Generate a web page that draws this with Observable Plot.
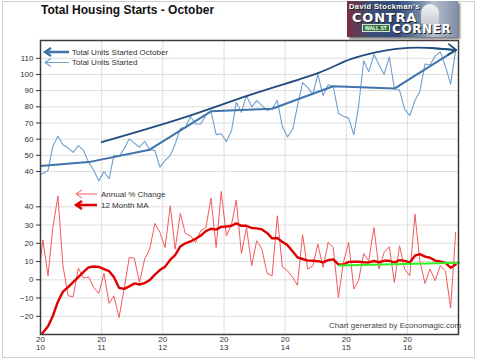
<!DOCTYPE html>
<html><head><meta charset="utf-8">
<script src="https://cdn.jsdelivr.net/npm/d3@7"></script>
<script src="https://cdn.jsdelivr.net/npm/@observablehq/plot@0.6"></script>
<style>
html,body{margin:0;padding:0;background:#fff;}
#wrap{position:relative;width:480px;height:361px;overflow:hidden;font-family:"Liberation Sans",Arial,sans-serif;}
#wrap svg{position:absolute;left:0;top:0;}
#border{position:absolute;left:2px;top:1px;width:471px;height:355px;border:1px solid #d0d0d0;}
#title{position:absolute;left:41px;top:2px;font-size:12px;font-weight:bold;color:#111;transform:scaleY(1.12);transform-origin:0 0;white-space:nowrap;}
#credit{position:absolute;left:329px;top:321px;font-size:8px;color:#444;white-space:nowrap;z-index:5;}
#logo{position:absolute;left:347px;top:1px;width:111px;height:36px;overflow:hidden;z-index:6;
 background:linear-gradient(90deg,#7a2f3e 0%,#3b4f78 22%,#2f4a78 45%,#6f86a6 65%,#b6bfcc 78%,#7d8ea8 100%);
 box-shadow:2px 2px 2px #777;}
#logo span{position:absolute;white-space:nowrap;font-weight:bold;color:#fff;text-shadow:1px 1px 0 #222;}
#logo .ds{left:2px;top:1px;font-size:7.5px;letter-spacing:0.4px;}
#logo .contra{left:5px;top:9px;font-size:13px;letter-spacing:0.8px;font-family:"DejaVu Sans",sans-serif;}
#logo .wall{left:15px;top:23px;font-size:5px;background:#2f7a3a;padding:0 2px;border:1px solid #ddd;text-shadow:none;}
#logo .corner{left:45px;top:21px;font-size:12px;letter-spacing:0.6px;font-family:"DejaVu Sans",sans-serif;}
#logo .dome{position:absolute;left:74px;top:3px;width:18px;height:20px;background:linear-gradient(#f4f4f4,#c8ccd4);border-radius:9px 9px 2px 2px;}
</style></head><body>
<div id="wrap">
 <div id="border"></div>
 <div id="title">Total Housing Starts - October</div>
 <div id="logo"><div class="dome"></div><span class="ds">David Stockman's</span><span class="contra">CONTRA</span><span class="wall">WALL ST</span><span class="corner">CORNER</span></div>
 <div id="credit">Chart generated by Economagic.com</div>
</div>
<script>
// Monthly series, Dec 2009 .. Oct 2016
const firstMonth = [2009, 11];
const unitsStarted = [38.0,
 38.8, 40.6, 55.4, 61.8, 56.5, 54.5, 51.8, 56.0, 53.0, 45.8, 40.8, 34.2,
 40.0, 35.5, 50.0, 49.3, 54.0, 60.2, 57.5, 55.0, 58.7, 53.5, 53.0, 42.7,
 46.8, 49.8, 57.0, 66.5, 67.3, 74.0, 69.4, 69.4, 75.0, 77.2, 62.8, 63.3,
 58.5, 65.3, 82.8, 76.6, 86.9, 80.0, 83.8, 80.7, 77.8, 78.8, 84.0, 67.8,
 61.4, 66.1, 80.3, 95.0, 92.0, 87.5, 100.2, 87.0, 93.7, 92.7, 76.0, 74.2,
 73.0, 62.7, 80.0, 108.5, 101.6, 112.3, 106.1, 100.0, 110.8, 91.3, 90.2, 78.6,
 74.6, 84.0, 89.5, 106.5, 106.0, 111.5, 114.0, 105.0, 94.0, 115.0];
const annualPctChange = [-2,
 21.8, 2.2, 28, 46, 7.7, -8.8, -9.3, 6.4, 0.9, 1.6, -4.2, -7.5,
 3.5, -13, -8.8, -20.7, -5.1, 12.2, 11.9, -1.5, 11.4, 16.8, 30.9, 26,
 17.7, 40.6, 16.8, 36.4, 25.4, 24.1, 20.5, 26.9, 28.7, 44.8, 17.7, 48.4,
 24.1, 30.5, 43.7, 14.4, 28.7, 7.7, 21.4, 16.8, 3.5, 2.2, 35.1, 7.1,
 4.9, 1.3, -3, 24.7, 5.9, 7.7, 19.6, 6.8, 20.5, 17.7, -9.7, 9.5,
 20.5, -5.1, -0.5, 14.4, 10.4, 28.7, 5.9, 15, 18.1, -1.5, 18.7, 5.9,
 2.2, 36, 10.4, -2, 5.9, -0.5, 7.7, 4.9, -15.5, 26];
const movingAvg12 = [-33,
 -29, -25.5, -20, -12, -6.5, -4, -1.3, 1.5, 4.3, 6.8, 7.3, 7.1,
 5.9, 4.7, 1.5, -4.4, -5, -3.6, -2, -2.6, -1.8, -0.2, 2.8, 5.3,
 7.2, 11, 13.5, 18.3, 20, 21, 22.5, 24.2, 26.7, 28, 27.5, 29,
 29.2, 29.6, 30.9, 29.6, 29.6, 28.4, 28.2, 27.6, 25.7, 22.7, 22.9, 20.8,
 19, 15.5, 12.3, 11.4, 10.5, 10.4, 10.2, 9.6, 10.8, 11.2, 8.5, 8.4,
 9.8, 9.9, 9.9, 9.6, 9.5, 10.3, 9.6, 10.4, 10.4, 9.5, 10.8, 10.4,
 9.5, 13.2, 14.1, 12.7, 12.1, 10.5, 10, 9.3, 6.6, 8.4];
// October values
const octoberYears = [2009, 2010, 2011, 2012, 2013, 2014, 2015, 2016];
const octoberUnits = [42.7, 45.8, 53.5, 77.2, 78.8, 92.7, 91.3, 115.0];
// Hand-drawn trend arrow (upper panel units)
const trendDates = ["2011-01-01","2012-04-12","2013-05-24","2014-07-27","2015-02-01","2015-08-18","2016-01-06","2016-05-04","2016-10-18"];
const trendValues = [58.1, 72.5, 86.9, 101.3, 109.6, 114.7, 116.4, 116.4, 115.1];
// Green trend on the 12-month MA
const greenDates = ["2014-11-20", "2016-11-05"];
const greenValues = [7.8, 9.3];
// Axis ticks
const yearTicks = [2010, 2011, 2012, 2013, 2014, 2015, 2016];
const upperTicks = [40, 50, 60, 70, 80, 90, 100, 110];
const lowerTicks = [-20, -10, 0, 10, 20, 30, 40];

const parse = s => { const [y, m, d] = s.split("-").map(Number); return new Date(y, m - 1, d); };
const months = unitsStarted.map((_, i) => new Date(firstMonth[0], firstMonth[1] + i, 15));
const upperData = unitsStarted.map((v, i) => ({date: months[i], v}));
const pctData = annualPctChange.map((v, i) => ({date: months[i], v}));
const maData = movingAvg12.map((v, i) => ({date: months[i], v}));
const octData = octoberYears.map((y, i) => ({date: new Date(y, 9, 15), v: octoberUnits[i]}));
const trendData = trendDates.map((d, i) => ({date: parse(d), v: trendValues[i]}));
const greenData = greenDates.map((d, i) => ({date: parse(d), v: greenValues[i]}));
const yearDates = yearTicks.map(y => new Date(y, 0, 1));

const common = {
  width: 480, height: 361,
  marginTop: 40, marginRight: 22, marginBottom: 27, marginLeft: 40,
  style: {background: "none", fontFamily: "'Liberation Sans', Arial, sans-serif", fontSize: "8px", color: "#333", overflow: "visible"}
};
const xOpts = {type: "time", domain: [new Date(2010, 0, 1), new Date(2016, 10, 1)]};

const upper = Plot.plot({
  ...common,
  x: {...xOpts, ticks: yearDates, tickFormat: d => "20\n" + String(d.getFullYear()).slice(2), tickSize: 0, tickPadding: 2, label: null},
  y: {domain: [-60.8, 121.0], ticks: upperTicks, tickSize: 4, tickPadding: 3, label: null},
  marks: [
    Plot.ruleX(yearDates.slice(1), {stroke: "#dedede", strokeWidth: 1}),
    Plot.ruleY(upperTicks, {stroke: "#dedede", strokeWidth: 1}),
    Plot.line(upperData, {x: "date", y: "v", stroke: "#6f9fcf", strokeWidth: 1.1, clip: true}),
    Plot.line(octData, {x: "date", y: "v", stroke: "#3f74ad", strokeWidth: 2, clip: true}),
    Plot.line(trendData, {x: "date", y: "v", stroke: "#1f4d80", strokeWidth: 1.8, curve: "catmull-rom"}),
    Plot.arrow([trendData.slice(-2)], {
      x1: d => d[0].date, y1: d => d[0].v, x2: d => d[1].date, y2: d => d[1].v,
      stroke: "#1f4d80", strokeWidth: 1.8, headLength: 11, headAngle: 70
    })
  ]
});

const lower = Plot.plot({
  ...common,
  x: {...xOpts, axis: null},
  y: {domain: [-30, 131.2], ticks: lowerTicks, tickSize: 4, tickPadding: 3, label: null},
  marks: [
    Plot.ruleY(lowerTicks, {stroke: "#dedede", strokeWidth: 1}),
    Plot.line(pctData, {x: "date", y: "v", stroke: "#f25a5a", strokeWidth: 1, clip: true}),
    Plot.line(maData, {x: "date", y: "v", stroke: "#e00000", strokeWidth: 2.4, clip: true}),
    Plot.line(greenData, {x: "date", y: "v", stroke: "#33ee22", strokeWidth: 2}),
    Plot.frame({stroke: "#3c3c3c", strokeWidth: 1.5})
  ]
});

const wrap = document.getElementById("wrap");
wrap.insertBefore(upper, document.getElementById("credit"));
wrap.insertBefore(lower, document.getElementById("credit"));

// In-chart legend annotations
const legendItems = [
  {label: "Total Units Started October", color: "#3f74ad", width: 2.4, x0: 45, x1: 69, tx: 72, y: 52},
  {label: "Total Units Started", color: "#6f9fcf", width: 1.1, x0: 45, x1: 69, tx: 72, y: 62.5},
  {label: "Annual % Change", color: "#f25a5a", width: 1, x0: 76, x1: 97, tx: 101, y: 194},
  {label: "12 Month MA", color: "#e00000", width: 2.4, x0: 76, x1: 97, tx: 101, y: 205}
];
const leg = d3.create("svg").attr("width", 480).attr("height", 361)
  .style("font-family", "'Liberation Sans', Arial, sans-serif").style("font-size", "8px");
const g = leg.selectAll("g").data(legendItems).join("g");
g.append("path")
  .attr("d", d => `M${d.x1},${d.y}H${d.x0}M${d.x0 + 6},${d.y - 4}L${d.x0},${d.y}L${d.x0 + 6},${d.y + 4}`)
  .attr("fill", "none").attr("stroke", d => d.color).attr("stroke-width", d => d.width);
g.append("text").attr("x", d => d.tx).attr("y", d => d.y).attr("dy", "0.35em")
  .attr("fill", "#333").text(d => d.label);
wrap.insertBefore(leg.node(), document.getElementById("credit"));
</script>
</body></html>
